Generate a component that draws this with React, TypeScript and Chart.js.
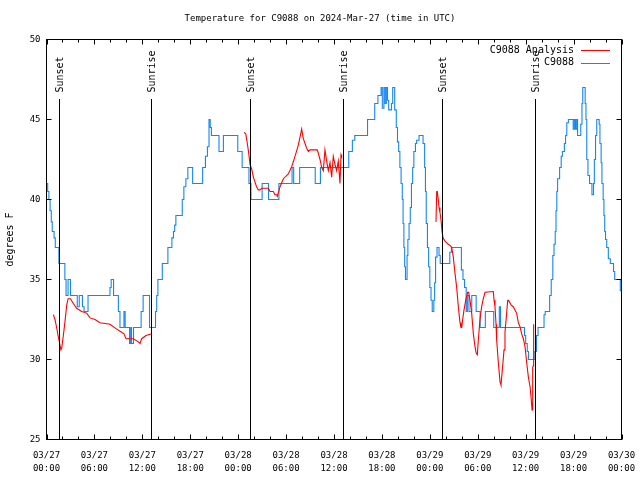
import React, { useEffect, useRef } from "react";
import { Chart, registerables } from "chart.js";

Chart.register(...registerables);

// Hours since 2024-03-27 00:00 UTC
const blueTimes = [
  0, 0.15, 0.3, 0.45, 0.6, 0.72, 0.95, 1.1, 1.55, 2.3, 2.45, 2.7, 3.0, 3.85, 4.1, 4.5, 4.7, 5.2,
  7.95, 8.1, 8.4, 9.0, 9.2, 9.7, 9.85, 10.4, 10.55, 10.65, 10.9, 11.85, 12.1, 12.9, 13.65, 13.8,
  13.95, 14.5, 15.2, 15.7, 15.9, 16.05, 16.2, 17.0, 17.2, 17.45, 17.7, 18.3, 19.55, 19.9, 20.15,
  20.35, 20.5, 20.65, 21.6, 22.15, 23.95, 24.5, 25.35, 25.6, 27.0, 27.8, 29.1, 30.75, 30.95, 31.7,
  33.65, 34.3, 37.85, 38.3, 38.6, 40.2, 41.1, 41.5, 41.9, 42.05, 42.25, 42.4, 42.55, 42.7, 42.85,
  43.2, 43.35, 43.6, 43.8, 43.95, 44.1, 44.25, 44.4, 44.55, 44.65, 44.75, 44.85, 44.95, 45.15,
  45.25, 45.4, 45.55, 45.7, 45.85, 46.0, 46.2, 46.35, 46.65, 47.15, 47.35, 47.45, 47.55, 47.7,
  47.85, 48.0, 48.15, 48.3, 48.5, 48.6, 48.72, 48.9, 49.15, 49.3, 50.5, 50.7, 51.95, 52.15, 52.35,
  52.55, 52.7, 52.9, 53.25, 53.8, 54.3, 54.95, 56.0, 56.7, 56.85, 59.85, 60.0, 60.2, 60.35, 61.15,
  61.35, 61.55, 62.3, 62.45, 63.0, 63.2, 63.4, 63.55, 63.7, 63.8, 63.9, 64.0, 64.25, 64.45, 64.6,
  64.85, 65.0, 65.15, 65.35, 65.95, 66.1, 66.25, 66.4, 66.5, 66.9, 67.05, 67.15, 67.45, 67.55,
  67.65, 67.8, 68.0, 68.3, 68.5, 68.6, 68.75, 68.9, 69.2, 69.3, 69.45, 69.55, 69.7, 69.8, 69.9,
  70.0, 70.15, 70.35, 70.6, 71.0, 71.15, 71.85, 72,
];
const blueTemps = [
  41, 40.5, 40, 39.3, 38.6, 38, 37.6, 37, 36, 35, 34, 35, 34, 33.3, 34, 33.3, 33, 34,
  34.5, 35, 34, 33, 32, 33, 32, 31, 32, 31, 32, 33, 34, 32, 33, 34,
  35, 36, 37, 37.6, 38, 38.4, 39, 40, 40.8, 41.3, 42, 41, 42, 42.7, 43.3,
  45, 44.5, 44, 43, 44, 43, 42, 41, 40, 41, 40, 41, 42, 41, 42,
  41, 42, 43, 43.7, 44, 45, 46, 46.5, 47, 45.7, 47, 46, 47, 46.2, 45.6,
  46, 47, 45.6, 44.5, 43.6, 43, 42, 41, 40, 38.5, 37, 35.8, 35, 36.5,
  37.5, 38.5, 39.5, 41, 42, 43, 43.5, 43.7, 44, 43.5, 42, 40.5, 38.5, 37,
  35.8, 34.5, 33.7, 33, 33.7, 34.8, 36.4, 37, 36.5, 36, 36.7, 37, 35.6, 35, 34.5,
  33, 34, 33, 34, 33, 32, 33, 32, 33.3, 32, 31.5, 31, 30.5, 30, 30.5,
  31.5, 32, 32.8, 33, 34, 35, 36.5, 37.2, 38, 39.3, 40.5, 41.3, 42, 42.7, 43,
  43.5, 44, 44.8, 45, 44.4, 45, 44.4, 45, 44, 44.7, 46, 47, 46, 45,
  42.5, 41.5, 41, 40.3, 41, 42.5, 44, 45, 44.7, 43.5, 42.3, 41, 40, 39, 38,
  37.5, 37, 36.3, 36, 35.5, 35, 34.3, 34.3,
];

const redTimes = [
  0.86, 1.06, 1.27, 1.48, 1.65, 1.8, 1.9, 2.11, 2.32, 2.53, 2.7, 3.0, 3.36, 3.78, 4.4, 5.03, 5.45,
  6.07, 6.7, 7.95, 8.79, 9.41, 9.7, 9.96, 10.87, 11.5, 11.71, 11.92, 12.46, 13.09, 14,
  24.73, 24.95, 25.15, 25.32, 25.48, 25.7, 25.9, 26.1, 26.3, 26.52, 26.73, 26.95, 27.15, 27.78,
  27.99, 28.4, 28.61, 28.82, 28.9, 29.24, 29.66, 30.28, 30.7, 31.12, 31.53, 31.83, 31.95, 32.16,
  32.58, 32.79, 33.0, 33.62, 33.91, 34.25, 34.46, 34.66, 34.87, 35.08, 35.29, 35.5, 35.71, 35.91,
  36.12, 36.33, 36.54, 36.66, 36.75, 36.88, 36.96, 38,
  48.77, 48.86, 48.94, 49.05, 49.15, 49.27, 49.4, 49.53, 49.65, 49.9, 50.3, 50.6, 50.74, 50.94,
  51.15, 51.36, 51.57, 51.78, 51.9, 52.0, 52.11, 52.28, 52.53, 52.74, 52.86, 53.03, 53.24, 53.45,
  53.66, 53.8, 53.95, 54.07, 54.28, 54.49, 54.7, 54.91, 55.95, 56.04, 56.16, 56.29, 56.37, 56.58,
  56.79, 56.91, 57.12, 57.29, 57.41, 57.62, 57.75, 57.83, 57.96, 58.2, 58.45, 58.66, 58.87, 59.08,
  59.29, 59.5, 59.71, 59.92, 60.13, 60.34, 60.55, 60.7, 60.8, 60.88, 60.96, 61.0,
];
const redTemps = [
  32.8, 32.5, 32.0, 31.4, 31.0, 30.6, 30.7, 31.5, 32.4, 33.4, 33.8, 33.8, 33.5, 33.2, 33.0, 32.9, 32.6,
  32.5, 32.3, 32.2, 31.9, 31.7, 31.6, 31.3, 31.3, 31.1, 31.0, 31.3, 31.5, 31.6, null,
  44.2, 44.1, 43.5, 42.9, 42.2, 41.9, 41.4, 41.1, 40.8, 40.6, 40.6, 40.7, 40.7, 40.7,
  40.5, 40.5, 40.3, 40.3, 40.2, 40.8, 41.3, 41.6, 42.05, 42.7, 43.4, 44.1, 44.4, 43.8,
  43.2, 43.0, 43.1, 43.1, 43.1, 42.5, 42.0, 41.8, 43.1, 42.4, 41.8, 42.3, 41.4, 42.7,
  42.2, 41.8, 42.4, 41.6, 41.0, 42.8, 42.7, null,
  38.6, 40.5, 40.5, 40.0, 39.5, 39.2, 38.7, 38.0, 37.6, 37.4, 37.2, 37.1, 37.0, 36.4,
  35.4, 34.5, 33.3, 32.3, 32.0, 32.0, 32.5, 33.1, 33.8, 34.2, 34.2, 33.7, 32.9, 31.6,
  30.8, 30.4, 30.3, 31.2, 32.5, 33.3, 33.8, 34.2, 34.25, 33.7, 33.3, 32.2, 31.2, 29.8,
  28.6, 28.4, 29.6, 30.6, 31.7, 32.9, 33.7, 33.7, 33.6, 33.4, 33.3, 33.1, 32.9, 32.3,
  32.05, 31.6, 31.3, 30.8, 29.8, 28.9, 28.3, 27.5, 26.85, 29.5, 29.6, 32.2,
];

const eventTimes = [1.6, 13.12, 25.52, 37.17, 49.56, 61.13];
const eventLabels = ["Sunset", "Sunrise", "Sunset", "Sunrise", "Sunset", "Sunrise"];

const dayLabels = ["03/27", "03/28", "03/29", "03/30"];
const hourLabels = ["00:00", "06:00", "12:00", "18:00"];
const yTickValues = [25, 30, 35, 40, 45, 50];

const titleText = "Temperature for C9088 on 2024-Mar-27 (time in UTC)";
const seriesNames = ["C9088 Analysis", "C9088"];
const seriesColors = ["#ff0000", "#1486f2"];

const MONO = "'DejaVu Sans Mono', monospace";

const overlayPlugin = {
  id: "gnuplotOverlay",
  afterDatasetsDraw(chart: any) {
    const { ctx, chartArea, scales } = chart;
    const xs = scales.x;
    const ys = scales.y;
    const { left, right, top, bottom } = chartArea;
    ctx.save();
    ctx.strokeStyle = "#000";
    ctx.lineWidth = 1;

    // title, centred on the canvas
    ctx.fillStyle = "#000";
    ctx.font = `9px ${MONO}`;
    ctx.textAlign = "center";
    ctx.textBaseline = "middle";
    ctx.fillText(titleText, chart.width / 2, 19);

    // event lines + labels
    ctx.font = `10px ${MONO}`;
    eventTimes.forEach((t, i) => {
      const px = Math.round(xs.getPixelForValue(t)) + 0.5;
      ctx.beginPath();
      ctx.moveTo(px, top + 59.5);
      ctx.lineTo(px, bottom);
      ctx.stroke();
      ctx.save();
      ctx.translate(px + 1, top + 53);
      ctx.rotate(-Math.PI / 2);
      ctx.textAlign = "left";
      ctx.textBaseline = "middle";
      ctx.fillText(eventLabels[i], 0, 0);
      ctx.restore();
    });

    // border
    ctx.strokeRect(left, top, right - left, bottom - top);

    // x ticks (major every 6h, minor every 2h), mirrored
    for (let h = 0; h <= 72; h += 2) {
      const px = Math.round(xs.getPixelForValue(h)) + 0.5;
      const len = h % 6 === 0 ? 5 : 3;
      ctx.beginPath();
      ctx.moveTo(px, bottom);
      ctx.lineTo(px, bottom - len);
      ctx.moveTo(px, top);
      ctx.lineTo(px, top + len);
      ctx.stroke();
    }
    // y ticks, mirrored
    yTickValues.forEach((v) => {
      const py = Math.round(ys.getPixelForValue(v) - 0.5) + 0.5;
      ctx.beginPath();
      ctx.moveTo(left, py);
      ctx.lineTo(left + 5, py);
      ctx.moveTo(right, py);
      ctx.lineTo(right - 5, py);
      ctx.stroke();
    });

    // legend (top right, inside)
    ctx.font = `10px ${MONO}`;
    ctx.textAlign = "right";
    ctx.textBaseline = "middle";
    seriesNames.forEach((name, i) => {
      const y = top + 10.5 + i * 12.5;
      ctx.fillStyle = "#000";
      ctx.fillText(name, right - 47.5, y);
      ctx.strokeStyle = seriesColors[i];
      ctx.beginPath();
      ctx.moveTo(right - 40.5, Math.round(y) + 0.5);
      ctx.lineTo(right - 11.5, Math.round(y) + 0.5);
      ctx.stroke();
    });
    ctx.restore();
  },
};

export default function App() {
  const canvasRef = useRef<HTMLCanvasElement | null>(null);

  useEffect(() => {
    const canvas = canvasRef.current;
    if (!canvas) return;
    const redData = redTimes.map((t, i) => ({ x: t, y: redTemps[i] }));
    const blueData = blueTimes.map((t, i) => ({ x: t, y: blueTemps[i] }));
    const chart = new Chart(canvas, {
      type: "line",
      data: {
        datasets: [
          {
            label: seriesNames[0],
            data: redData as any,
            borderColor: seriesColors[0],
            borderWidth: 1.1,
            pointRadius: 0,
            tension: 0,
            spanGaps: false,
            fill: false,
          },
          {
            label: seriesNames[1],
            data: blueData as any,
            borderColor: seriesColors[1],
            borderWidth: 1.1,
            pointRadius: 0,
            stepped: true,
            fill: false,
          },
        ],
      },
      options: {
        animation: false,
        responsive: false,
        layout: { padding: { left: 0, right: 18.5, top: 39.5, bottom: 0 } },
        plugins: {
          legend: { display: false },
          tooltip: { enabled: false },
          title: { display: false },
        },
        scales: {
          x: {
            type: "linear",
            min: 0,
            max: 72,
            grid: { display: false, drawTicks: false },
            border: { display: false },
            ticks: {
              stepSize: 2,
              autoSkip: false,
              maxRotation: 0,
              minRotation: 0,
              padding: 10,
              color: "#000",
              font: { family: MONO, size: 9, lineHeight: 1.4 },
              callback: (value: any) => {
                const v = Number(value);
                if (v % 6 !== 0) return "";
                const day = Math.floor(v / 24);
                const hr = (v % 24) / 6;
                return [dayLabels[day], hourLabels[hr]];
              },
            },
            afterFit: (scale: any) => {
              scale.height = 40.5;
              scale.paddingLeft = 0;
              scale.paddingRight = 0;
            },
          },
          y: {
            type: "linear",
            min: 25,
            max: 50,
            grid: { display: false, drawTicks: false },
            border: { display: false },
            ticks: {
              stepSize: 5,
              padding: 6,
              color: "#000",
              font: { family: MONO, size: 9 },
            },
            title: {
              display: true,
              text: "degrees F",
              color: "#000",
              font: { family: MONO, size: 10 },
              padding: { top: 4, bottom: 0 },
            },
            afterFit: (scale: any) => {
              scale.width = 46.5;
              scale.paddingTop = 0;
              scale.paddingBottom = 0;
            },
          },
        },
      },
      plugins: [overlayPlugin],
    });
    return () => chart.destroy();
  }, []);

  return (
    <div style={{ position: "fixed", left: 0, top: 0, width: 640, height: 480, background: "#fff" }}>
      <canvas ref={canvasRef} width={640} height={480} style={{ display: "block" }} />
    </div>
  );
}
